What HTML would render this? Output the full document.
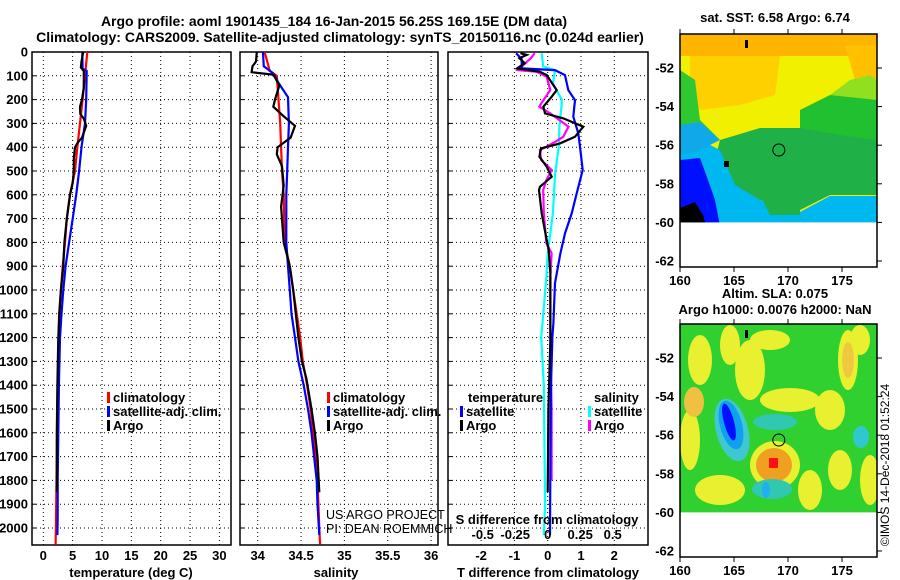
<!DOCTYPE html>
<html><head><meta charset="utf-8"><style>
html,body{margin:0;padding:0;background:#fff;}
svg{display:block;font-family:"Liberation Sans",Arial,sans-serif;}
.b{font-weight:bold;font-size:13px;}
</style></head><body>
<svg id="c" width="900" height="580" viewBox="0 0 900 580" xmlns="http://www.w3.org/2000/svg">
<text x="334" y="26" text-anchor="middle" font-size="14" font-weight="bold">Argo profile: aoml 1901435_184 16-Jan-2015 56.25S 169.15E (DM data)</text>
<text x="340" y="42" text-anchor="middle" font-size="14" font-weight="bold">Climatology: CARS2009. Satellite-adjusted climatology: synTS_20150116.nc (0.024d earlier)</text>
<g id="plots"></g>
<g id="maps"></g>
</svg>
<script>
// ---------- data ----------
const depthTicks = [0,100,200,300,400,500,600,700,800,900,1000,1100,1200,1300,1400,1500,1600,1700,1800,1900,2000];
const tempTicks = [0,5,10,15,20,25,30];
const salTicks = [34,34.5,35,35.5,36];
const tdiffTicks = [-2,-1,0,1,2];
const sdiffTicks = [-0.5,-0.25,0,0.25,0.5];
const sdiffTickLabels = ["-0.5","-0.25","0","0.25","0.5"];

const climTDepth = [0,100,200,300,400,500,600,700,800,900,1000,1100,1200,1400,1600,1800,2000,2070];
const climTemp  = [7.5,7.1,6.7,6.25,5.8,5.4,4.55,4.0,3.7,3.3,3.0,2.7,2.6,2.45,2.35,2.25,2.15,2.1];
const satTDepth = [0,70,80,200,300,400,500,600,700,800,900,1000,1100,1200,1400,1600,1800,1950,2030];
const satTemp   = [6.65,6.7,7.4,7.3,7.1,6.5,6.1,5.6,5.0,4.4,3.8,3.4,3.1,2.85,2.65,2.55,2.45,2.45,2.4];
const argoTDepth = [0,40,65,80,150,200,230,260,280,310,360,380,400,450,500,550,600,700,800,900,1000,1100,1200,1400,1600,1850];
const argoTemp   = [6.8,6.5,6.4,6.9,6.9,6.6,6.25,6.3,6.9,7.3,6.6,5.9,5.4,5.2,5.2,5.0,4.55,4.0,3.6,3.4,3.0,2.75,2.55,2.4,2.3,2.3];

const climSDepth = [0,80,100,200,300,400,500,600,800,900,1000,1100,1200,1300,1400,1500,1600,1700,1800,1900,2000,2070];
const climSal    = [34.08,34.14,34.22,34.24,34.26,34.27,34.28,34.30,34.31,34.37,34.41,34.45,34.49,34.52,34.57,34.61,34.64,34.67,34.69,34.70,34.71,34.72];
const satSDepth = [0,60,90,130,190,300,400,500,600,800,900,1000,1100,1200,1300,1400,1500,1600,1700,1800,1900,2030];
const satSal    = [34.06,34.07,34.18,34.24,34.35,34.36,34.35,34.34,34.33,34.33,34.35,34.37,34.39,34.43,34.47,34.53,34.58,34.62,34.65,34.68,34.69,34.71];
const argoSDepth = [0,40,60,85,95,140,200,230,270,310,360,400,430,480,560,650,800,900,1000,1100,1200,1300,1370,1500,1600,1700,1850];
const argoSal    = [33.99,33.98,33.94,33.93,34.18,34.25,34.20,34.18,34.30,34.43,34.38,34.23,34.22,34.28,34.30,34.27,34.30,34.37,34.41,34.44,34.47,34.51,34.56,34.62,34.66,34.69,34.71];

const satTdDepth = [5,30,69,76,97,160,202,272,342,398,496,594,678,762,846,971,1139,1196,1400,1700,2030];
const satTdiff   = [-0.95,-0.78,-0.78,0.22,0.52,0.62,0.82,0.77,0.92,0.97,1.05,0.87,0.72,0.52,0.38,0.22,0.17,0.14,0.10,0.08,0.07];
const argoTdDepth = [5,12,26,47,69,83,97,160,188,230,258,279,314,356,384,405,440,482,524,566,580,678,790,832,930,1210,1500,1850];
const argoTdiff   = [-0.82,-0.63,-0.85,-0.69,-0.92,-0.23,-0.03,0.27,0.12,-0.13,-0.08,0.47,1.07,0.82,0.37,-0.2,-0.25,-0.03,0.12,-0.23,-0.26,-0.18,-0.03,0.03,0.08,0.08,0.02,0.0];
const argoSdDepth = [5,26,76,83,104,160,216,230,258,314,356,377,412,454,496,538,580,678,804,846,944,1139,1196,1500,1800];
const argoSdiff   = [-0.10,-0.13,-0.23,-0.085,-0.008,0.02,-0.05,-0.065,0.02,0.16,0.12,0.06,-0.06,-0.05,0.03,-0.01,-0.035,-0.03,-0.01,0.03,0.02,0.02,0.02,0.03,0.03];
const satSdDepth = [5,61,76,132,202,230,314,398,510,678,846,944,1139,1196,1400,1900,2030];
const satSdiff   = [-0.046,-0.035,0.057,0.04,0.11,0.105,0.09,0.085,0.057,0.04,0.0,-0.01,-0.04,-0.05,-0.03,-0.02,-0.03];

// ---------- scales ----------
const yD = d => 52 + d*0.238;
const xT = t => 43.3 + t*5.87;
const xS = s => 257.7 + (s-34)*86.7;
const xTd = t => 547.7 + t*33.3;
const xSd = s => 547.7 + s*130;

const NS = "http://www.w3.org/2000/svg";
const plots = document.getElementById('plots');
function mk(tag, attrs, parent){
  const e = document.createElementNS(NS, tag);
  for (const k in attrs) e.setAttribute(k, attrs[k]);
  (parent||plots).appendChild(e);
  return e;
}
function txt(x,y,s,anchor,cls,parent){
  const t = mk('text',{x:x,y:y,'text-anchor':anchor||'start','class':cls||'b'},parent);
  t.textContent = s; return t;
}

function panel(x0,x1,name,xs,ticks,labels,showDepth){
  const g = mk('g',{});
  
  
  depthTicks.forEach(d=>{
    const l = mk('line',{x1:x0,x2:x1,y1:yD(d),y2:yD(d),stroke:'#000','stroke-width':1,'stroke-dasharray':'1,3'},g);
    
    
    const tk = mk('line',{x1:x0,x2:x0+4,y1:yD(d),y2:yD(d),stroke:'#000'},g);
    
    
    if (showDepth){
      const t = txt(x0-4,yD(d)+4.5,String(d),'end','b',g);
      
      
    }
  });
  ticks.forEach((v,i)=>{
    const l = mk('line',{x1:xs(v),x2:xs(v),y1:52,y2:545,stroke:'#000','stroke-width':1,'stroke-dasharray':'1,3'},g);
    
    
    const t = txt(xs(v),560,labels[i],'middle','b',g);
    
    
  });
  const r = mk('rect',{x:x0,y:52,width:x1-x0,height:493,fill:'none',stroke:'#000','stroke-width':1.5},g);
  
  
  return g;
}
function series(g,depths,vals,xs,color,name){
  const pts = depths.map((d,i)=>xs(vals[i]).toFixed(1)+','+yD(d).toFixed(1)).join(' ');
  const p = mk('polyline',{points:pts,fill:'none',stroke:color,'stroke-width':2.2,'stroke-linejoin':'miter'},g);
  
  
}
function legend(g,x,y,color,label){
  const m = mk('rect',{x:x,y:y-10,width:3,height:11,fill:color},g);
  
  
  const t = txt(x+6,y,label,'start','b',g);
  
  
}

const p1 = panel(32,231,'temperature-panel',xT,tempTicks,tempTicks.map(String),true);
series(p1,climTDepth,climTemp,xT,'#ff0000','climatology-temperature-line');
series(p1,satTDepth,satTemp,xT,'#0000ff','satellite-temperature-line');
series(p1,argoTDepth,argoTemp,xT,'#000000','argo-temperature-line');
legend(p1,107,402,'#ff0000','climatology');
legend(p1,107,416,'#0000ff','satellite-adj. clim.');
legend(p1,107,430,'#000000','Argo');
let t = txt(131,577,'temperature (deg C)','middle','b',p1);



const p2 = panel(240,438,'salinity-panel',xS,salTicks,["34","34.5","35","35.5","36"],false);
series(p2,climSDepth,climSal,xS,'#ff0000','climatology-salinity-line');
series(p2,satSDepth,satSal,xS,'#0000ff','satellite-salinity-line');
series(p2,argoSDepth,argoSal,xS,'#000000','argo-salinity-line');
legend(p2,327,402,'#ff0000','climatology');
legend(p2,327,416,'#0000ff','satellite-adj. clim.');
legend(p2,327,430,'#000000','Argo');
t = txt(336,577,'salinity','middle','b',p2);


t = mk('text',{x:326,y:519,'font-size':12.5},p2); t.textContent='US ARGO PROJECT';


t = mk('text',{x:326,y:533,'font-size':12.5},p2); t.textContent='PI: DEAN ROEMMICH';



const p3 = panel(448,648,'difference-panel',xTd,tdiffTicks,tdiffTicks.map(String),false);
series(p3,satSdDepth,satSdiff,xSd,'#00ffff','satellite-salinity-diff-line');
series(p3,argoSdDepth,argoSdiff,xSd,'#ff00ff','argo-salinity-diff-line');
series(p3,satTdDepth,satTdiff,xTd,'#0000ff','satellite-temperature-diff-line');
series(p3,argoTdDepth,argoTdiff,xTd,'#000000','argo-temperature-diff-line');
t = txt(468,402,'temperature','start','b',p3);


t = txt(594,402,'salinity','start','b',p3);


legend(p3,460,416,'#0000ff','satellite');
legend(p3,460,430,'#000000','Argo');
legend(p3,588,416,'#00ffff','satellite');
legend(p3,588,430,'#ff00ff','Argo');
t = txt(547,524,'S difference from climatology','middle','b',p3);


sdiffTicks.forEach((v,i)=>{
  const s = txt(xSd(v),539,sdiffTickLabels[i],'middle','b',p3);
  
  
});
t = txt(548,577,'T difference from climatology','middle','b',p3);


</script>
<script>
const lonTicks = [160,165,170,175];
const latTicks = [-52,-54,-56,-58,-60,-62];
const mapsG = document.getElementById('maps');
const NS2 = "http://www.w3.org/2000/svg";
function m2(tag, attrs, parent){
  const e = document.createElementNS(NS2, tag);
  for (const k in attrs) e.setAttribute(k, attrs[k]);
  parent.appendChild(e); return e;
}
const xL = lon => 680 + (lon-160)*10.8;
function drawMap(top, name, shapes){
  const g = m2('g',{},mapsG);
  
  
  const yLat = lat => top + 68 + (-52 - lat)*19.3;
  const cp = 'clip'+top;
  const cl = m2('clipPath',{id:cp},g);
  m2('rect',{x:680,y:top+34,width:197,height:yLat(-60)-(top+34)},cl);
  const dg = m2('g',{'clip-path':'url(#'+cp+')'},g);
  shapes(dg, top);
  const c = m2('circle',{cx:xL(169.15),cy:yLat(-56.25),r:6,fill:'none',stroke:'#000','stroke-width':1},g);
  
  
  m2('rect',{x:680,y:top+34,width:197,height:233,fill:'none',stroke:'#000','stroke-width':1.5},g);
  lonTicks.forEach(v=>{
    m2('line',{x1:xL(v),x2:xL(v),y1:top+29,y2:top+34,stroke:'#000'},g);
    m2('line',{x1:xL(v),x2:xL(v),y1:top+267,y2:top+272,stroke:'#000'},g);
    const t = m2('text',{x:xL(v),y:top+285,'text-anchor':'middle','class':'b'},g);
    t.textContent = String(v);
    
    
  });
  latTicks.forEach(v=>{
    m2('line',{x1:877,x2:882,y1:yLat(v),y2:yLat(v),stroke:'#000'},g);
    const t = m2('text',{x:674,y:yLat(v)+4.5,'text-anchor':'end','class':'b'},g);
    t.textContent = String(v);
    
    
  });
}
drawMap(0,'sst-map',(g)=>{
  m2('rect',{x:680,y:34,width:197,height:192,fill:'#f0f000'},g);
  m2('rect',{x:680,y:34,width:197,height:22,fill:'#ffb400'},g);
  m2('path',{d:'M690 56 L780 56 L775 95 L740 105 L700 110 L690 90Z',fill:'#ffd000'},g);
  m2('path',{d:'M845 45 L877 45 L877 85 L855 80Z',fill:'#ffc000'},g);
  m2('path',{d:'M680 70 L695 80 L700 120 L720 140 L680 150Z',fill:'#30c830'},g);
  m2('path',{d:'M800 110 L830 95 L860 90 L877 85 L877 150 L800 145Z',fill:'#20c030'},g);
  m2('path',{d:'M830 95 L850 80 L870 75 L877 80 L877 100 Z',fill:'#90e020'},g);
  m2('path',{d:'M720 140 L760 128 L800 128 L840 135 L877 140 L877 195 L830 195 L800 210 L760 200 L730 190 L715 160Z',fill:'#20b048'},g);
  m2('path',{d:'M700 140 L720 150 L735 185 L760 200 L800 212 L830 196 L877 196 L877 226 L680 226 L680 140Z',fill:'#00b8f0'},g);
  m2('path',{d:'M680 125 L700 122 L720 140 L700 150 L680 155Z',fill:'#10a8e8'},g);
  m2('path',{d:'M680 160 L700 158 L708 180 L715 200 L720 226 L680 226Z',fill:'#0010ff'},g);
  m2('path',{d:'M760 195 L800 195 L800 215 L770 215Z',fill:'#20b048'},g);
  m2('path',{d:'M680 208 L695 202 L703 215 L706 226 L680 226Z',fill:'#000'},g);
  m2('rect',{x:724,y:161,width:5,height:6,fill:'#000'},g);
  m2('rect',{x:745,y:40,width:3,height:8,fill:'#000'},g);
});
drawMap(290,'sla-map',(g)=>{
  m2('rect',{x:680,y:324,width:197,height:192,fill:'#30d030'},g);
  const yel = '#e8f030';
  [[700,360,12,25],[730,345,10,20],[750,370,15,30],[790,400,30,12],[848,360,10,30],[830,410,15,20],[690,440,10,30],[870,480,10,25],[840,470,12,20],[720,490,25,15],[770,340,20,10],[810,490,12,20],[860,340,10,15]].forEach(e=>{
    m2('ellipse',{cx:e[0],cy:e[1],rx:e[2],ry:e[3],fill:yel},g);
  });
  m2('ellipse',{cx:694,cy:402,rx:10,ry:15,fill:'#f0c040'},g);
  m2('ellipse',{cx:848,cy:360,rx:6,ry:18,fill:'#f0c840'},g);
  m2('ellipse',{cx:775,cy:465,rx:25,ry:24,fill:'#e8f030'},g);
  m2('ellipse',{cx:774,cy:465,rx:18,ry:17,fill:'#f0a020'},g);
  m2('rect',{x:769,y:458,width:9,height:10,fill:'#ff1010'},g);
  m2('ellipse',{cx:732,cy:430,rx:16,ry:32,fill:'#40c8d0',transform:'rotate(-15 732 430)'},g);
  m2('ellipse',{cx:731,cy:425,rx:11,ry:25,fill:'#10a0f0',transform:'rotate(-15 731 425)'},g);
  m2('ellipse',{cx:729,cy:422,rx:5,ry:19,fill:'#0010ff',transform:'rotate(-15 729 422)'},g);
  m2('ellipse',{cx:775,cy:422,rx:22,ry:8,fill:'#30c8b0'},g);
  m2('ellipse',{cx:772,cy:489,rx:20,ry:10,fill:'#30c8b0'},g);
  m2('ellipse',{cx:766,cy:490,rx:4,ry:8,fill:'#20b0f0'},g);
  m2('ellipse',{cx:861,cy:437,rx:8,ry:11,fill:'#30c8d0'},g);
  m2('rect',{x:745,y:330,width:3,height:8,fill:'#000'},g);
});
[['sat. SST: 6.58 Argo: 6.74',775,22,'sst-map-title'],['Altim. SLA: 0.075',775,298,'sla-map-title'],['Argo h1000: 0.0076 h2000: NaN',775,314,'sla-map-subtitle']].forEach(a=>{
  const t = document.createElementNS(NS2,'text');
  t.setAttribute('x',a[1]); t.setAttribute('y',a[2]); t.setAttribute('text-anchor','middle'); t.setAttribute('class','b');
  t.textContent = a[0];
  
  
  mapsG.appendChild(t);
});
const cr = document.createElementNS(NS2,'text');
cr.setAttribute('x',0); cr.setAttribute('y',0); cr.setAttribute('font-size','12');
cr.setAttribute('text-anchor','middle');
cr.setAttribute('transform','translate(889 465) rotate(-90)');
cr.textContent = '\u00A9IMOS 14-Dec-2018 01:52:24';


mapsG.appendChild(cr);
</script>
</body></html>
